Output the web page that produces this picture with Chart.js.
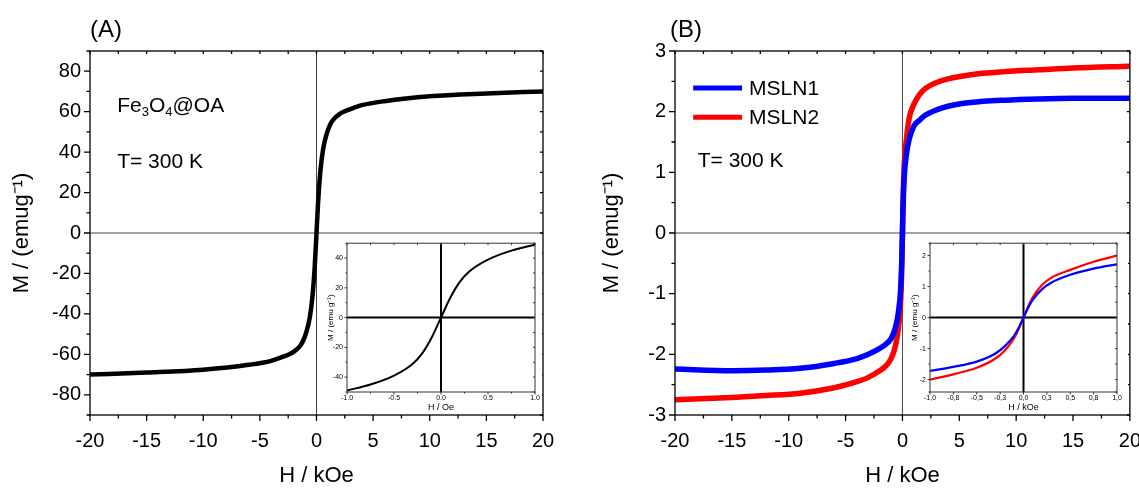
<!DOCTYPE html>
<html>
<head>
<meta charset="utf-8">
<script src="https://cdn.jsdelivr.net/npm/chart.js@4/dist/chart.umd.min.js"></script>
<style>
  html, body { margin: 0; padding: 0; background: #fff; overflow: hidden; }
  .panel { position: absolute; }
  .inset { position: absolute; background: #fff; }
</style>
</head>
<body>
<div class="panel" style="left:0;top:0;width:570px;height:489px"><canvas id="chartA" width="570" height="489"></canvas></div>
<div class="panel" style="left:570px;top:0;width:585px;height:489px"><canvas id="chartB" width="585" height="489"></canvas></div>
<div class="inset" style="left:322px;top:235px;width:220px;height:178px"><canvas id="insetA" width="220" height="178"></canvas></div>
<div class="inset" style="left:906px;top:235px;width:222px;height:178px"><canvas id="insetB" width="222" height="178"></canvas></div>
<script>
// main panels, field in kOe
const hFe3O4 = [-20, -15, -10, -6, -4, -3, -2.5, -2, -1.5, -1.2, -0.9, -0.6, -0.35, -0.15, 0, 0.15, 0.35, 0.6, 0.9, 1.2, 1.5, 2, 2.5, 3, 4, 6, 10, 15, 20];
const mFe3O4 = [-70, -69, -67.6, -65.2, -63.2, -61.3, -60.2, -58.7, -56.2, -53.5, -49, -42, -31, -16, 0, 16, 31, 42, 49, 53.5, 56.2, 58.7, 60.2, 61.3, 63.2, 65.2, 67.6, 69, 70];

const hMSLN = [-20, -15, -12, -9, -6, -4, -3, -2, -1.5, -1, -0.6, -0.35, -0.15, -0.05, 0, 0.05, 0.15, 0.35, 0.6, 1, 1.5, 2, 3, 4, 6, 9, 12, 15, 20];
const mMSLN1 = [-2.24, -2.27, -2.26, -2.23, -2.15, -2.07, -2.0, -1.9, -1.84, -1.74, -1.55, -1.3, -0.9, -0.4, 0, 0.4, 0.9, 1.3, 1.55, 1.76, 1.86, 1.94, 2.03, 2.09, 2.15, 2.19, 2.21, 2.22, 2.22];
const mMSLN2 = [-2.75, -2.71, -2.68, -2.64, -2.55, -2.45, -2.38, -2.27, -2.2, -2.07, -1.85, -1.55, -1.1, -0.5, 0, 0.5, 1.1, 1.55, 1.9, 2.12, 2.28, 2.38, 2.48, 2.54, 2.61, 2.66, 2.69, 2.72, 2.75];

// insets, low field
const hInsetA = [-1, -0.75, -0.5, -0.3, -0.2, -0.1, 0, 0.1, 0.2, 0.3, 0.5, 0.75, 1];
const mInsetA = [-49, -45, -39, -31, -24, -13.5, 0, 13.5, 24, 31, 39, 45, 49];

const hInsetB = [-1, -0.75, -0.5, -0.3, -0.2, -0.1, -0.05, 0, 0.05, 0.1, 0.2, 0.3, 0.5, 0.75, 1];
const mInsetB1 = [-1.72, -1.59, -1.42, -1.16, -0.92, -0.58, -0.32, 0, 0.32, 0.58, 0.92, 1.13, 1.38, 1.58, 1.72];
const mInsetB2 = [-2.0, -1.83, -1.62, -1.32, -1.06, -0.66, -0.36, 0, 0.36, 0.66, 1.06, 1.29, 1.54, 1.8, 2.0];

const FONT = "'Liberation Sans', Arial, sans-serif";
Chart.defaults.font.family = FONT;
Chart.defaults.color = '#000';

const toPoints = (xs, ys) => xs.map((x, i) => ({ x: x, y: ys[i] }));

// zero lines, box and ticks (major/minor) drawn by hand
const framePlugin = {
    id: 'frame',
    beforeDraw(chart, args, opts) {
        if (opts.background) {
            const ctx = chart.ctx;
            ctx.save();
            ctx.fillStyle = '#fff';
            ctx.fillRect(0, 0, chart.width, chart.height);
            ctx.restore();
        }
    },
    beforeDatasetsDraw(chart, args, opts) {
        const { ctx, chartArea: a, scales: { x, y } } = chart;
        const x0 = x.getPixelForValue(0);
        const y0 = y.getPixelForValue(0);
        ctx.save();
        ctx.strokeStyle = opts.zeroColor;
        ctx.lineWidth = opts.zeroWidth;
        ctx.beginPath();
        ctx.moveTo(x0, a.top);
        ctx.lineTo(x0, a.bottom);
        ctx.moveTo(a.left, y0);
        ctx.lineTo(a.right, y0);
        ctx.stroke();
        ctx.restore();
    },
    afterDatasetsDraw(chart, args, opts) {
        const { ctx, chartArea: a, scales: { x, y } } = chart;
        ctx.save();
        ctx.strokeStyle = opts.color;
        ctx.lineWidth = opts.width;
        ctx.strokeRect(a.left, a.top, a.right - a.left, a.bottom - a.top);
        ctx.beginPath();
        x.ticks.forEach((t, i) => {
            const px = x.getPixelForTick(i);
            const major = t.label !== '';
            ctx.moveTo(px, a.bottom);
            ctx.lineTo(px, a.bottom + (major ? opts.major : opts.minor));
            ctx.moveTo(px, a.top);
            ctx.lineTo(px, a.top + opts.inner);
        });
        y.ticks.forEach((t, i) => {
            const py = y.getPixelForTick(i);
            const major = t.label !== '';
            ctx.moveTo(a.left, py);
            ctx.lineTo(a.left - (major ? opts.major : opts.minor), py);
            ctx.moveTo(a.right, py);
            ctx.lineTo(a.right - opts.inner, py);
        });
        ctx.stroke();
        ctx.restore();
    }
};

// free text: panel letters, sample names, legend
const notesPlugin = {
    id: 'notes',
    afterDraw(chart, args, opts) {
        const { ctx, scales: { x, y } } = chart;
        ctx.save();
        ctx.fillStyle = '#000';
        (opts.items || []).forEach((item) => {
            const px = item.px !== undefined ? item.px : x.getPixelForValue(item.x);
            const py = item.py !== undefined ? item.py : y.getPixelForValue(item.y);
            let cx = px;
            ctx.textBaseline = 'alphabetic';
            item.parts.forEach((part) => {
                const size = part.sub ? item.size * 0.62 : item.size;
                ctx.font = size + 'px ' + FONT;
                ctx.fillText(part.t, cx, py + (part.sub ? item.size * 0.22 : 0));
                cx += ctx.measureText(part.t).width;
            });
        });
        (opts.legend || []).forEach((entry) => {
            const ds = chart.data.datasets[entry.index];
            const ly = y.getPixelForValue(entry.y);
            ctx.strokeStyle = ds.borderColor;
            ctx.lineWidth = 5;
            ctx.beginPath();
            ctx.moveTo(x.getPixelForValue(entry.x0), ly);
            ctx.lineTo(x.getPixelForValue(entry.x1), ly);
            ctx.stroke();
            ctx.font = '21px ' + FONT;
            ctx.textBaseline = 'middle';
            ctx.fillText(ds.label, x.getPixelForValue(entry.x1) + 7, ly + 1);
        });
        ctx.restore();
    }
};

function mainOptions(cfg) {
    return {
        responsive: false,
        animation: false,
        layout: { padding: { top: 51, right: cfg.padRight, left: 0, bottom: 0 } },
        plugins: {
            legend: { display: false },
            tooltip: { enabled: false },
            frame: { color: '#000', width: 1.3, zeroColor: '#444', zeroWidth: 1, major: 6, minor: 3.5, inner: 3 },
            notes: { items: cfg.notes, legend: cfg.legend }
        },
        scales: {
            x: {
                type: 'linear',
                min: -20,
                max: 20,
                grid: { display: false, drawTicks: false },
                border: { display: false },
                ticks: {
                    stepSize: 2.5,
                    autoSkip: false,
                    maxRotation: 0,
                    padding: 14,
                    font: { size: 20 },
                    callback: (v) => (v % 5 === 0 ? String(v) : '')
                },
                title: { display: true, text: 'H / kOe', font: { size: 22 }, padding: { top: 1, bottom: 0 } },
                afterFit: (scale) => { scale.height = 74; }
            },
            y: {
                type: 'linear',
                min: cfg.yMin,
                max: cfg.yMax,
                grid: { display: false, drawTicks: false },
                border: { display: false },
                ticks: {
                    stepSize: cfg.yStep,
                    autoSkip: false,
                    padding: 9,
                    font: { size: 20 },
                    callback: cfg.yLabel
                },
                title: { display: true, text: 'M / (emug\u207B\u00B9)', font: { size: 22 }, padding: { top: cfg.titlePad, bottom: 0 } },
                afterFit: (scale) => { scale.width = cfg.yWidth; }
            }
        }
    };
}

function insetOptions(cfg) {
    return {
        responsive: false,
        animation: false,
        layout: { padding: { top: 4, right: cfg.padRight, left: 0, bottom: 0 } },
        plugins: {
            legend: { display: false },
            tooltip: { enabled: false },
            frame: { background: true, color: '#333', width: 1, zeroColor: '#000', zeroWidth: 2, major: 2.5, minor: 1.5, inner: 2 }
        },
        scales: {
            x: {
                type: 'linear',
                min: -1,
                max: 1,
                grid: { display: false, drawTicks: false },
                border: { display: false },
                ticks: {
                    stepSize: 0.25,
                    autoSkip: false,
                    maxRotation: 0,
                    padding: 2,
                    font: { size: 7 },
                    callback: cfg.xLabel
                },
                title: { display: true, text: cfg.xTitle, font: { size: 9 }, padding: { top: 0, bottom: 0 } },
                afterFit: (scale) => { scale.height = 21; }
            },
            y: {
                type: 'linear',
                min: cfg.yMin,
                max: cfg.yMax,
                grid: { display: false, drawTicks: false },
                border: { display: false },
                ticks: {
                    stepSize: cfg.yStep,
                    autoSkip: false,
                    padding: 4,
                    font: { size: 7 },
                    callback: cfg.yLabel
                },
                title: { display: true, text: cfg.yTitle, font: { size: 8 }, padding: { top: 4, bottom: 0 } },
                afterFit: (scale) => { scale.width = cfg.yWidth; }
            }
        }
    };
}

const lineStyle = { pointRadius: 0, fill: false, cubicInterpolationMode: 'monotone', borderCapStyle: 'butt' };

new Chart(document.getElementById('chartA'), {
    type: 'line',
    data: {
        datasets: [
            Object.assign({ label: 'Fe3O4@OA', data: toPoints(hFe3O4, mFe3O4), borderColor: '#000', borderWidth: 4.5 }, lineStyle)
        ]
    },
    options: mainOptions({
        padRight: 27,
        yWidth: 90,
        yMin: -90,
        yMax: 90,
        yStep: 10,
        titlePad: 9,
        yLabel: (v) => (v % 20 === 0 && Math.abs(v) <= 80 ? String(v) : ''),
        notes: [
            { px: 90, py: 37, size: 24, parts: [{ t: '(A)' }] },
            { x: -17.6, y: 60, size: 21, parts: [{ t: 'Fe' }, { t: '3', sub: true }, { t: 'O' }, { t: '4', sub: true }, { t: '@OA' }] },
            { x: -17.6, y: 32, size: 21, parts: [{ t: 'T= 300 K' }] }
        ]
    }),
    plugins: [framePlugin, notesPlugin]
});

new Chart(document.getElementById('chartB'), {
    type: 'line',
    data: {
        datasets: [
            Object.assign({ label: 'MSLN1', data: toPoints(hMSLN, mMSLN1), borderColor: '#0000ff', borderWidth: 5.5, order: 1 }, lineStyle),
            Object.assign({ label: 'MSLN2', data: toPoints(hMSLN, mMSLN2), borderColor: '#ff0000', borderWidth: 5.5, order: 2 }, lineStyle)
        ]
    },
    options: mainOptions({
        padRight: 25,
        yWidth: 105,
        yMin: -3,
        yMax: 3,
        yStep: 0.5,
        titlePad: 29,
        yLabel: (v) => (Number.isInteger(v) ? String(v) : ''),
        notes: [
            { px: 100, py: 37, size: 24, parts: [{ t: '(B)' }] },
            { x: -18, y: 1.08, size: 21, parts: [{ t: 'T= 300 K' }] }
        ],
        legend: [
            { index: 0, x0: -18.4, x1: -14.1, y: 2.39 },
            { index: 1, x0: -18.4, x1: -14.1, y: 1.91 }
        ]
    }),
    plugins: [framePlugin, notesPlugin]
});

new Chart(document.getElementById('insetA'), {
    type: 'line',
    data: {
        datasets: [
            Object.assign({ data: toPoints(hInsetA, mInsetA), borderColor: '#000', borderWidth: 2 }, lineStyle)
        ]
    },
    options: insetOptions({
        padRight: 7,
        yWidth: 25,
        yMin: -50,
        yMax: 50,
        yStep: 10,
        xTitle: 'H / Oe',
        yTitle: 'M / (emu g\u207B\u00B9)',
        xLabel: (v) => (Math.abs(v * 2 - Math.round(v * 2)) < 1e-9 ? v.toFixed(1) : ''),
        yLabel: (v) => (v % 20 === 0 ? String(v) : '')
    }),
    plugins: [framePlugin]
});

new Chart(document.getElementById('insetB'), {
    type: 'line',
    data: {
        datasets: [
            Object.assign({ label: 'MSLN1', data: toPoints(hInsetB, mInsetB1), borderColor: '#0000ff', borderWidth: 2.2 }, lineStyle),
            Object.assign({ label: 'MSLN2', data: toPoints(hInsetB, mInsetB2), borderColor: '#ff0000', borderWidth: 2.2 }, lineStyle)
        ]
    },
    options: insetOptions({
        padRight: 11,
        yWidth: 24,
        yMin: -2.4,
        yMax: 2.4,
        yStep: 0.5,
        xTitle: 'H / kOe',
        yTitle: 'M / (emu g\u207B\u00B9)',
        xLabel: (v) => v.toFixed(1).replace('.', ','),
        yLabel: (v) => (Number.isInteger(v) ? String(v) : '')
    }),
    plugins: [framePlugin]
});
</script>
</body>
</html>
